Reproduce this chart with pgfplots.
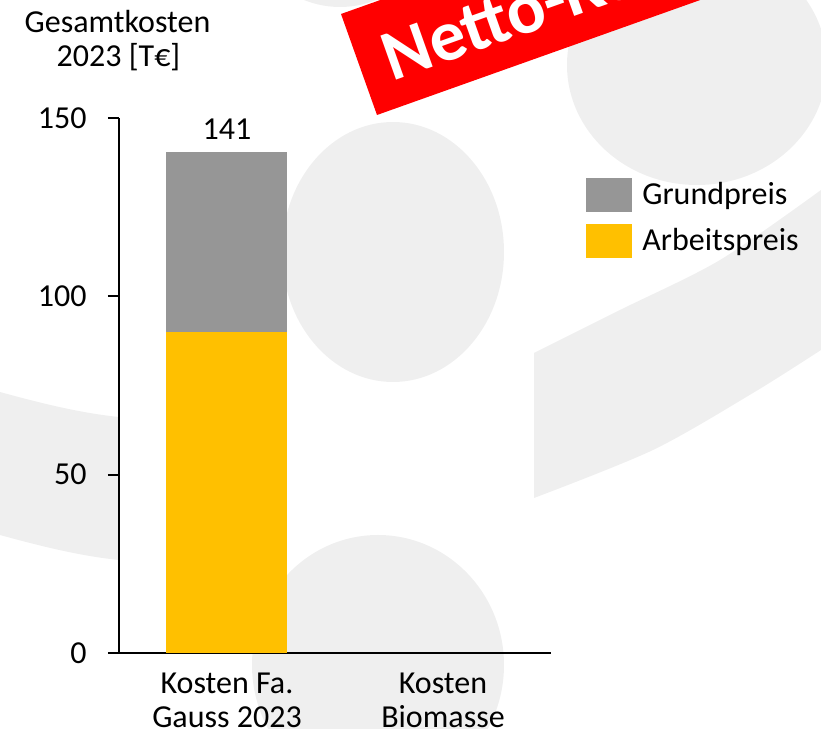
\documentclass[border=0pt]{standalone}
\usepackage{fontspec}
\setmainfont{Carlito}
\usepackage{pgfplots}
\pgfplotsset{compat=1.18}
\definecolor{arbeit}{HTML}{FFC000}
\definecolor{grund}{HTML}{969696}
\definecolor{wm}{HTML}{EFEFEF}
\definecolor{netto}{HTML}{FF0000}
\newcommand{\lbl}{\fontsize{16}{17}\selectfont}

\begin{document}
\begin{tikzpicture}
\path[use as bounding box] (0,0) rectangle (410.5pt,364.5pt);
% background watermark, in pixel units of the reference (y downwards)
\begin{scope}[shift={(0,364.5pt)}, x=0.5pt, y=-0.5pt]
  \clip (0,0) rectangle (821,729);
  \fill[wm] (393,252) ellipse [x radius=111, y radius=130];
  \fill[wm] (697,65) ellipse [x radius=130, y radius=120];
  \fill[wm] (378,665) ellipse [x radius=126, y radius=130];
  \fill[wm] (340,-123) ellipse [x radius=111, y radius=130];
  \fill[wm] (0,392) .. controls (40,403) and (80,413) .. (119,417)
    -- (119,560) .. controls (80,556) and (40,546) .. (0,535) -- cycle;
  \fill[wm] plot[smooth] coordinates {(534,353) (620,310) (720,260) (821,190)}
    -- plot[smooth] coordinates {(821,350) (753,393) (653,450) (534,498)} -- cycle;
  % red banner
  \fill[netto] (341,14) -- (377,115) -- (942,-86) -- (906,-187) -- cycle;
  \node[rotate=19.6, anchor=base west, inner sep=0pt, text=white,
        font=\bfseries\fontsize{36}{36}\selectfont] at (392,82) {Netto-Kosten};
  % axis title
  \node[anchor=base, inner sep=0pt, font=\lbl] at (117.5,33) {Gesamtkosten};
  \node[anchor=base, inner sep=0pt, font=\lbl] at (118.5,67) {2023 [T€]};
\end{scope}

\begin{axis}[
  at={(59.5pt,38pt)}, anchor=south west,
  scale only axis, width=216pt, height=267.5pt,
  xmin=-0.5, xmax=1.5, ymin=0, ymax=150,
  ybar stacked, bar width=60.5pt,
  axis x line*=bottom, axis y line*=left,
  axis line style={line width=1pt, -},
  xtick={0,1},
  xticklabels={{Kosten Fa.\\Gauss 2023},{Kosten\\Biomasse}},
  xticklabel style={align=center, anchor=north, inner sep=0pt, yshift=-4.5pt, font=\lbl},
  x tick style={draw=none},
  ytick={0,50,100,150},
  y tick style={line width=1pt, black},
  tick align=outside, major tick length=5.5pt,
  yticklabel style={anchor=east, inner sep=0pt, xshift=-10.5pt, font=\lbl},
  /pgf/number format/assume math mode=true,
  reverse legend,
  legend image code/.code={\fill[#1] (0pt,-8.5pt) rectangle (23pt,8.5pt);},
  legend style={at={(1.081,0.888)}, anchor=north west, draw=none, fill=none,
    inner sep=0pt, font=\lbl, row sep=5.6pt,
    nodes={inner sep=0pt},
    /tikz/every odd column/.append style={column sep=5pt}},
  legend cell align=left,
]
\addplot[fill=arbeit, draw=none] coordinates {(0,90.1) (1,0)};
\addplot[fill=grund, draw=none] coordinates {(0,50.45) (1,0)};
\legend{Arbeitspreis, Grundpreis}
\node[font=\lbl] at (axis cs:0,45) {90};
\node[font=\lbl] at (axis cs:0,115.3) {50};
\node[font=\lbl, anchor=base, yshift=6pt] at (axis cs:0,140.55) {141};
\end{axis}
\end{tikzpicture}
\end{document}
